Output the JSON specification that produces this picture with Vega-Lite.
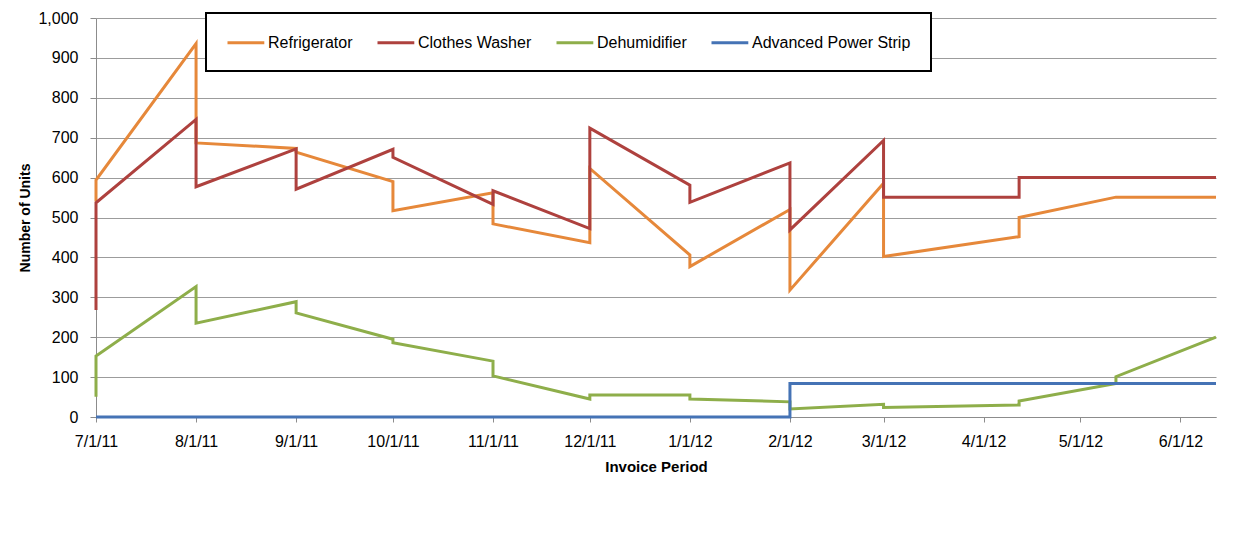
{
  "$schema": "https://vega.github.io/schema/vega-lite/v6.json",
  "autosize": {"type": "none"},
  "padding": {"left": 96, "top": 18, "right": 31, "bottom": 118},
  "width": 1120,
  "height": 399,
  "background": "#ffffff",
  "config": {
    "view": {"stroke": null},
    "font": "Liberation Sans",
    "legend": {"strokeWidth": 2}
  },
  "data": {
    "values": [
      {"s": "Refrigerator", "i": 1, "d": "2011-07-01T00:00", "v": 540},
      {"s": "Refrigerator", "i": 2, "d": "2011-07-01T00:00", "v": 594},
      {"s": "Refrigerator", "i": 3, "d": "2011-08-01T00:00", "v": 936},
      {"s": "Refrigerator", "i": 4, "d": "2011-08-01T00:00", "v": 687},
      {"s": "Refrigerator", "i": 5, "d": "2011-09-01T00:00", "v": 673},
      {"s": "Refrigerator", "i": 6, "d": "2011-09-01T00:00", "v": 664},
      {"s": "Refrigerator", "i": 7, "d": "2011-10-01T00:00", "v": 590},
      {"s": "Refrigerator", "i": 8, "d": "2011-10-01T00:00", "v": 517},
      {"s": "Refrigerator", "i": 9, "d": "2011-11-01T00:00", "v": 562},
      {"s": "Refrigerator", "i": 10, "d": "2011-11-01T00:00", "v": 484},
      {"s": "Refrigerator", "i": 11, "d": "2011-12-01T00:00", "v": 437},
      {"s": "Refrigerator", "i": 12, "d": "2011-12-01T00:00", "v": 623},
      {"s": "Refrigerator", "i": 13, "d": "2012-01-01T00:00", "v": 406},
      {"s": "Refrigerator", "i": 14, "d": "2012-01-01T00:00", "v": 377},
      {"s": "Refrigerator", "i": 15, "d": "2012-02-01T00:00", "v": 520},
      {"s": "Refrigerator", "i": 16, "d": "2012-02-01T00:00", "v": 318},
      {"s": "Refrigerator", "i": 17, "d": "2012-03-01T00:00", "v": 586},
      {"s": "Refrigerator", "i": 18, "d": "2012-03-01T00:00", "v": 402},
      {"s": "Refrigerator", "i": 19, "d": "2012-04-12T00:00", "v": 452},
      {"s": "Refrigerator", "i": 20, "d": "2012-04-12T00:00", "v": 500},
      {"s": "Refrigerator", "i": 21, "d": "2012-05-12T00:00", "v": 551},
      {"s": "Refrigerator", "i": 22, "d": "2012-06-12T00:00", "v": 551},
      {"s": "Clothes Washer", "i": 1, "d": "2011-07-01T00:00", "v": 268},
      {"s": "Clothes Washer", "i": 2, "d": "2011-07-01T00:00", "v": 537},
      {"s": "Clothes Washer", "i": 3, "d": "2011-08-01T00:00", "v": 746},
      {"s": "Clothes Washer", "i": 4, "d": "2011-08-01T00:00", "v": 577},
      {"s": "Clothes Washer", "i": 5, "d": "2011-09-01T00:00", "v": 672},
      {"s": "Clothes Washer", "i": 6, "d": "2011-09-01T00:00", "v": 571},
      {"s": "Clothes Washer", "i": 7, "d": "2011-10-01T00:00", "v": 671},
      {"s": "Clothes Washer", "i": 8, "d": "2011-10-01T00:00", "v": 651},
      {"s": "Clothes Washer", "i": 9, "d": "2011-11-01T00:00", "v": 533},
      {"s": "Clothes Washer", "i": 10, "d": "2011-11-01T00:00", "v": 567},
      {"s": "Clothes Washer", "i": 11, "d": "2011-12-01T00:00", "v": 472},
      {"s": "Clothes Washer", "i": 12, "d": "2011-12-01T00:00", "v": 724},
      {"s": "Clothes Washer", "i": 13, "d": "2012-01-01T00:00", "v": 581},
      {"s": "Clothes Washer", "i": 14, "d": "2012-01-01T00:00", "v": 538},
      {"s": "Clothes Washer", "i": 15, "d": "2012-02-01T00:00", "v": 637},
      {"s": "Clothes Washer", "i": 16, "d": "2012-02-01T00:00", "v": 469},
      {"s": "Clothes Washer", "i": 17, "d": "2012-03-01T00:00", "v": 693},
      {"s": "Clothes Washer", "i": 18, "d": "2012-03-01T00:00", "v": 551},
      {"s": "Clothes Washer", "i": 19, "d": "2012-04-12T00:00", "v": 551},
      {"s": "Clothes Washer", "i": 20, "d": "2012-04-12T00:00", "v": 600},
      {"s": "Clothes Washer", "i": 21, "d": "2012-06-12T00:00", "v": 600},
      {"s": "Dehumidifier", "i": 1, "d": "2011-07-01T00:00", "v": 51},
      {"s": "Dehumidifier", "i": 2, "d": "2011-07-01T00:00", "v": 153},
      {"s": "Dehumidifier", "i": 3, "d": "2011-08-01T00:00", "v": 327},
      {"s": "Dehumidifier", "i": 4, "d": "2011-08-01T00:00", "v": 235},
      {"s": "Dehumidifier", "i": 5, "d": "2011-09-01T00:00", "v": 289},
      {"s": "Dehumidifier", "i": 6, "d": "2011-09-01T00:00", "v": 261},
      {"s": "Dehumidifier", "i": 7, "d": "2011-10-01T00:00", "v": 195},
      {"s": "Dehumidifier", "i": 8, "d": "2011-10-01T00:00", "v": 186},
      {"s": "Dehumidifier", "i": 9, "d": "2011-11-01T00:00", "v": 140},
      {"s": "Dehumidifier", "i": 10, "d": "2011-11-01T00:00", "v": 103},
      {"s": "Dehumidifier", "i": 11, "d": "2011-12-01T00:00", "v": 45},
      {"s": "Dehumidifier", "i": 12, "d": "2011-12-01T00:00", "v": 55},
      {"s": "Dehumidifier", "i": 13, "d": "2012-01-01T00:00", "v": 55},
      {"s": "Dehumidifier", "i": 14, "d": "2012-01-01T00:00", "v": 45},
      {"s": "Dehumidifier", "i": 15, "d": "2012-02-01T00:00", "v": 38},
      {"s": "Dehumidifier", "i": 16, "d": "2012-02-01T00:00", "v": 20},
      {"s": "Dehumidifier", "i": 17, "d": "2012-03-01T00:00", "v": 32},
      {"s": "Dehumidifier", "i": 18, "d": "2012-03-01T00:00", "v": 24},
      {"s": "Dehumidifier", "i": 19, "d": "2012-04-12T00:00", "v": 30},
      {"s": "Dehumidifier", "i": 20, "d": "2012-04-12T00:00", "v": 40},
      {"s": "Dehumidifier", "i": 21, "d": "2012-05-12T00:00", "v": 84},
      {"s": "Dehumidifier", "i": 22, "d": "2012-05-12T00:00", "v": 101},
      {"s": "Dehumidifier", "i": 23, "d": "2012-06-12T00:00", "v": 200},
      {"s": "Advanced Power Strip", "i": 1, "d": "2011-07-01T00:00", "v": 0},
      {"s": "Advanced Power Strip", "i": 2, "d": "2012-02-01T00:00", "v": 0},
      {"s": "Advanced Power Strip", "i": 3, "d": "2012-02-01T00:00", "v": 84},
      {"s": "Advanced Power Strip", "i": 4, "d": "2012-06-12T00:00", "v": 84}
    ]
  },
  "mark": {"type": "line", "strokeWidth": 3, "strokeJoin": "miter", "strokeCap": "butt", "clip": false},
  "encoding": {
    "x": {
      "field": "d",
      "type": "temporal",
      "scale": {
        "domain": [
          {"year": 2011, "month": 7, "date": 1},
          {"year": 2012, "month": 6, "date": 12}
        ],
        "nice": false
      },
      "axis": {
        "title": "Invoice Period",
        "titleFont": "Liberation Sans",
        "titleFontSize": 15,
        "titleFontWeight": "bold",
        "titleColor": "#000000",
        "titleBaseline": "alphabetic",
        "titleY": 54,
        "format": "%-m/%-d/%y",
        "tickCount": {"interval": "month", "step": 1},
        "labelFont": "Liberation Sans",
        "labelFontSize": 16,
        "labelColor": "#000000",
        "labelPadding": 11,
        "labelOverlap": false,
        "labelFlush": false,
        "tickSize": 5,
        "tickColor": "#8c8c8c",
        "domainColor": "#8c8c8c",
        "grid": false
      }
    },
    "y": {
      "field": "v",
      "type": "quantitative",
      "scale": {"domain": [0, 1000], "nice": false},
      "axis": {
        "title": "Number of Units",
        "titleFont": "Liberation Sans",
        "titleFontSize": 14,
        "titleFontWeight": "bold",
        "titleColor": "#000000",
        "titleBaseline": "alphabetic",
        "titleX": -67,
        "values": [0, 100, 200, 300, 400, 500, 600, 700, 800, 900, 1000],
        "format": ",d",
        "labelFont": "Liberation Sans",
        "labelFontSize": 16,
        "labelColor": "#000000",
        "labelPadding": 12,
        "tickSize": 6,
        "tickColor": "#8c8c8c",
        "domainColor": "#8c8c8c",
        "grid": true,
        "gridColor": "#9c9c9c",
        "gridWidth": 1
      }
    },
    "color": {
      "field": "s",
      "type": "nominal",
      "scale": {
        "domain": ["Refrigerator", "Clothes Washer", "Dehumidifier", "Advanced Power Strip"],
        "range": ["#E6883A", "#AE413E", "#8EAE4A", "#4573B5"]
      },
      "legend": {
        "title": null,
        "orient": "none",
        "legendX": 110,
        "legendY": -5,
        "direction": "horizontal",
        "strokeColor": "#000000",
        "fillColor": "#ffffff",
        "padding": 20,
        "columnPadding": 18,
        "labelFont": "Liberation Sans",
        "labelFontSize": 16,
        "labelColor": "#000000",
        "labelLimit": 400,
        "symbolType": "M-1,0H3.6",
        "symbolSize": 256,
        "symbolStrokeWidth": 3,
        "labelOffset": 23
      }
    },
    "order": {"field": "i", "type": "quantitative"}
  }
}
